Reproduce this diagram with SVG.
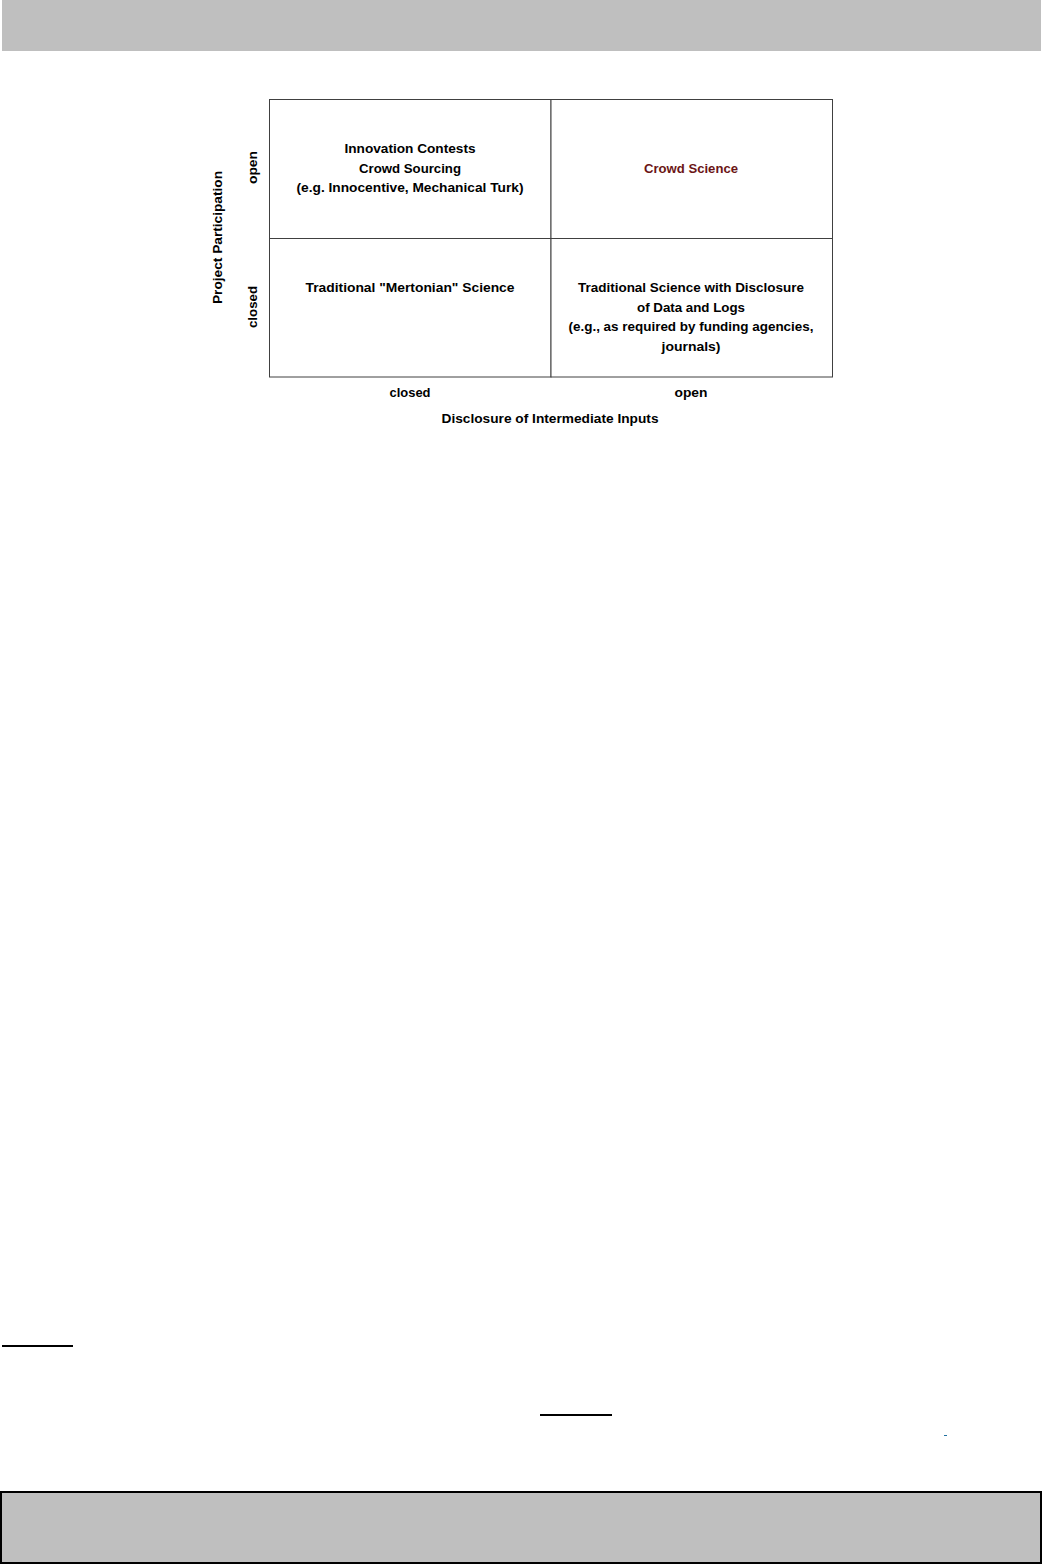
<svg xmlns="http://www.w3.org/2000/svg" width="1042" height="1565" viewBox="0 0 1042 1565">
<style>
.t{font-family:"Liberation Sans",Arial,sans-serif;font-weight:bold;font-size:13px;fill:#000;text-anchor:middle}
.red{fill:#6b1515}
.cell{fill:#fff;stroke:#404040;stroke-width:1}
.rule{stroke:#000;stroke-width:2}
</style>
<rect x="0" y="0" width="1042" height="1565" fill="#fff"/>
<rect id="header" x="2" y="0" width="1039" height="51" fill="#bfbfbf"/>

<g id="matrix">
<g id="cell-open-closed">
<rect class="cell" x="269.5" y="99.5" width="281.5" height="139"/>
<text class="t" x="410" y="153" textLength="131" lengthAdjust="spacingAndGlyphs">Innovation Contests</text>
<text class="t" x="410" y="172.5" textLength="102" lengthAdjust="spacingAndGlyphs">Crowd Sourcing</text>
<text class="t" x="410" y="192" textLength="227" lengthAdjust="spacingAndGlyphs">(e.g. Innocentive, Mechanical Turk)</text>
</g>
<g id="cell-open-open">
<rect class="cell" x="551" y="99.5" width="281.5" height="139"/>
<text class="t red" x="691" y="173" textLength="94" lengthAdjust="spacingAndGlyphs">Crowd Science</text>
</g>
<g id="cell-closed-closed">
<rect class="cell" x="269.5" y="238.5" width="281.5" height="138.5"/>
<text class="t" x="410" y="292" textLength="209" lengthAdjust="spacingAndGlyphs">Traditional "Mertonian" Science</text>
</g>
<g id="cell-closed-open">
<rect class="cell" x="551" y="238.5" width="281.5" height="138.5"/>
<text class="t" x="691" y="292" textLength="226" lengthAdjust="spacingAndGlyphs">Traditional Science with Disclosure</text>
<text class="t" x="691" y="311.5" textLength="108" lengthAdjust="spacingAndGlyphs">of Data and Logs</text>
<text class="t" x="691" y="331" textLength="245" lengthAdjust="spacingAndGlyphs">(e.g., as required by funding agencies,</text>
<text class="t" x="691" y="351" textLength="59" lengthAdjust="spacingAndGlyphs">journals)</text>
</g>
</g>

<g id="axis-labels">
<text class="t" x="410" y="397" textLength="41" lengthAdjust="spacingAndGlyphs">closed</text>
<text class="t" x="691" y="397" textLength="33" lengthAdjust="spacingAndGlyphs">open</text>
<text class="t" x="550" y="423" textLength="217" lengthAdjust="spacingAndGlyphs">Disclosure of Intermediate Inputs</text>
<text class="t" transform="translate(257 167.5) rotate(-90)" x="0" y="0" textLength="33" lengthAdjust="spacingAndGlyphs">open</text>
<text class="t" transform="translate(257 307) rotate(-90)" x="0" y="0" textLength="42" lengthAdjust="spacingAndGlyphs">closed</text>
<text class="t" transform="translate(222 237.5) rotate(-90)" x="0" y="0" textLength="133" lengthAdjust="spacingAndGlyphs">Project Participation</text>
</g>

<g id="connectors"></g>

<line class="rule" x1="2" y1="1346" x2="73" y2="1346"/>
<line class="rule" x1="540" y1="1415" x2="612" y2="1415"/>
<line x1="944" y1="1435.5" x2="947" y2="1435.5" stroke="#1f6f9f" stroke-width="1"/>

<rect id="footer" x="1" y="1492" width="1040" height="71" fill="#bfbfbf" stroke="#000" stroke-width="2"/>
</svg>
